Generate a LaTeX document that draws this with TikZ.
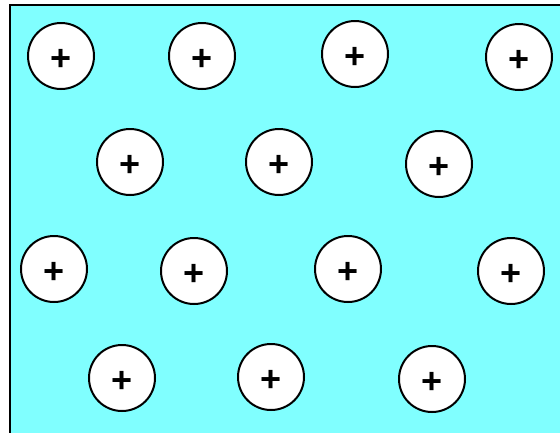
\documentclass[tikz,border=0pt]{standalone}
\usepackage{fontspec}
\newfontfamily\ionfont{Liberation Sans}
\definecolor{plasma}{HTML}{80FFFF}
\tikzset{ion/.style={circle,draw=black,fill=white,line width=2pt,minimum size=66pt,inner sep=0pt,font=\ionfont\bfseries\fontsize{36}{36}\selectfont}}
\newcommand{\ioncharge}{\raisebox{-14.5pt}[0pt][0pt]{+}}
\begin{document}
\begin{tikzpicture}[x=1pt,y=1pt]
	\useasboundingbox (0,0) rectangle (560,-432);
	\fill[plasma] (10,-5) rectangle (575,-445);
	\draw[line width=2.2pt] (10,-445)--(10,-5)--(575,-5);
	% ions, row by row
	\foreach \name/\px/\py in {a1/61/56, a2/202/56, a3/355/54, a4/519/57,
			b1/130/162, b2/279/162, b3/439/164,
			c1/54/269, c2/194/271, c3/348/269, c4/511/271,
			d1/122/378, d2/271/377, d3/432/379}
		\node[ion] (\name) at (\px,-\py) {\ioncharge};
\end{tikzpicture}
\end{document}
